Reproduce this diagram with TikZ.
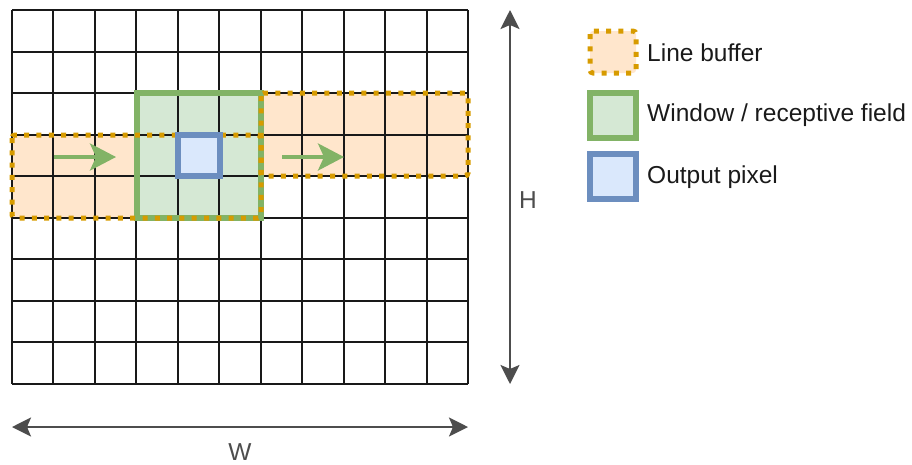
\documentclass[tikz,border=0pt]{standalone}
\usepackage{fontspec}
\setmainfont{Liberation Sans}
\usetikzlibrary{arrows.meta}
\definecolor{obrd}{HTML}{D79B00}
\definecolor{ofill}{HTML}{FFE6CC}
\definecolor{gbrd}{HTML}{82B366}
\definecolor{gfill}{HTML}{D5E8D4}
\definecolor{bbrd}{HTML}{6C8EBF}
\definecolor{bfill}{HTML}{DAE8FC}
\definecolor{dimc}{HTML}{4D4D4D}
\definecolor{txt}{HTML}{1A1A1A}
\begin{document}
\begin{tikzpicture}[x=1pt,y=-1pt,
  gridline/.style={line width=2pt,black!90},
  bufborder/.style={obrd,line width=5pt,dash pattern=on 5pt off 7.3pt,rounded corners=3pt},
  winborder/.style={gbrd,line width=5.5pt},
  pixborder/.style={bbrd,line width=5.5pt},
  flowarrow/.style={gbrd,line width=3.5pt,-{Stealth[length=26pt,width=27pt,inset=6pt]}},
  dimarrow/.style={dimc,line width=2.5pt,{Stealth[length=19pt,width=19pt,inset=4pt]}-{Stealth[length=19pt,width=19pt,inset=4pt]}},
  lbl/.style={txt,font=\fontsize{24.5}{28}\selectfont,anchor=west,inner sep=0pt},
  dimlbl/.style={dimc,font=\fontsize{24.5}{28}\selectfont,inner sep=0pt}]
\useasboundingbox (0,0) rectangle (912,464);
\pgfmathsetmacro{\cw}{456/11}
\pgfmathsetmacro{\ch}{374/9}
% fills
\fill[ofill] (12,135) rectangle (261,218);
\fill[ofill] (261,93) rectangle (468,176);
\fill[gfill] (137,93) rectangle (261,218);
% grid
\foreach \i in {0,...,11} \draw[gridline] (12+\i*\cw,10) -- (12+\i*\cw,384);
\foreach \j in {0,...,9} \draw[gridline] (12,10+\j*\ch) -- (468,10+\j*\ch);
% window
\draw[winborder] (137,93) rectangle (261,218);
% line buffer borders
\draw[bufborder] (12,135) rectangle (261,218);
\draw[bufborder] (261,93) rectangle (468,176);
% output pixel
\draw[pixborder,fill=bfill] (178,135) rectangle (220,176);
% flow arrows
\coordinate (a1s) at (54,157);
\coordinate (a1e) at (116,157);
\coordinate (a2s) at (282,157);
\coordinate (a2e) at (344,157);
\draw[flowarrow] (a1s) -- (a1e);
\draw[flowarrow] (a2s) -- (a2e);
% dimension arrows
\coordinate (wl) at (12,427);
\coordinate (wr) at (468,427);
\coordinate (ht) at (510,10);
\coordinate (hb) at (510,384);
\draw[dimarrow] (wl) -- (wr);
\draw[dimarrow] (ht) -- (hb);
\node[dimlbl] (wlab) at (240,452) {W};
\node[dimlbl] (hlab) at (528,200) {H};
% legend
\draw[bufborder,fill=ofill] (590,31) rectangle (636,73);
\node[lbl] (l1) at (647,53) {Line buffer};
\draw[winborder,fill=gfill] (590,93) rectangle (636,138);
\node[lbl] (l2) at (647,115) {Window / receptive field};
\draw[pixborder,fill=bfill] (590,154) rectangle (636,199);
\node[lbl] (l3) at (647,177) {Output pixel};
\end{tikzpicture}
\end{document}
